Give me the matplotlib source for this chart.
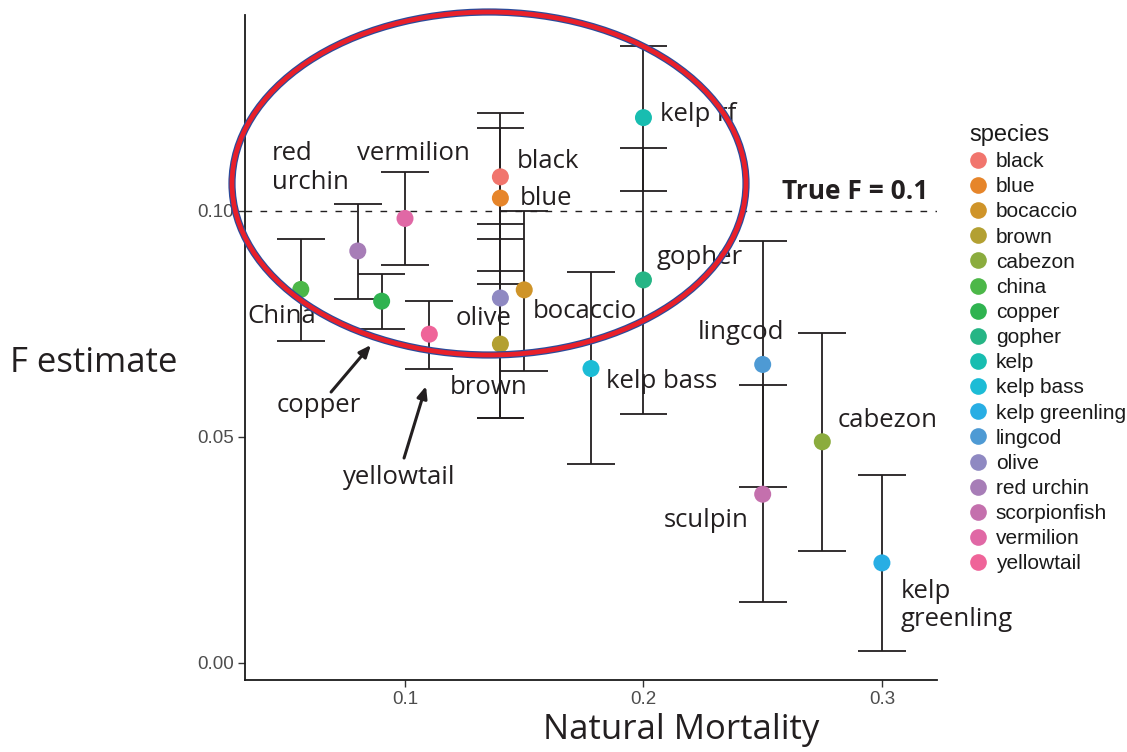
import matplotlib
matplotlib.use("Agg")
import matplotlib.pyplot as plt
from matplotlib.patches import Ellipse
from matplotlib.lines import Line2D

# ---- data -------------------------------------------------------------
species = ["black", "blue", "bocaccio", "brown", "cabezon", "china", "copper",
           "gopher", "kelp", "kelp bass", "kelp greenling", "lingcod", "olive",
           "red urchin", "scorpionfish", "vermilion", "yellowtail"]
natural_mortality = [0.14, 0.14, 0.15, 0.14, 0.275, 0.0563, 0.0902,
                     0.20, 0.20, 0.178, 0.30, 0.25, 0.14,
                     0.0802, 0.25, 0.10, 0.1102]
f_estimate = [0.1075, 0.1028, 0.0825, 0.0705, 0.0489, 0.0826, 0.0800,
              0.0847, 0.1206, 0.0651, 0.0221, 0.0660, 0.0807,
              0.0911, 0.0373, 0.0983, 0.0727]
f_upper = [0.1216, 0.1183, 0.0999, 0.0867, 0.0730, 0.0937, 0.0861,
           0.1139, 0.1365, 0.0865, 0.0415, 0.0933, 0.0971,
           0.1016, 0.0614, 0.1086, 0.0801]
f_lower = [0.0937, 0.0838, 0.0645, 0.0541, 0.0248, 0.0712, 0.0739,
           0.0550, 0.1044, 0.0440, 0.0027, 0.0389, 0.0541,
           0.0805, 0.0134, 0.0880, 0.0651]
true_f = 0.1
x_ticks = [0.1, 0.2, 0.3]
y_ticks = [0.00, 0.05, 0.10]
y_tick_labels = ["0.00", "0.05", "0.10"]

# one hue per species
colors = ["#F1756D", "#E6852A", "#CF9429", "#B3A032", "#8BAC3E", "#4CB748",
          "#2FB350", "#26B585", "#18BDB0", "#1CBCD6", "#28AEE4", "#4E9AD4",
          "#8F89C2", "#A77DB7", "#C470AD", "#E068A5", "#EF6499"]

# ---- figure -----------------------------------------------------------
W, H = 1127, 752
fig = plt.figure(figsize=(W / 100, H / 100), dpi=100)
ax = fig.add_axes([245 / W, 1 - 680 / H, (937 - 245) / W, (680 - 15) / H])
ax.set_xlim(0.0329, 0.3231)
ax.set_ylim(-0.0038, 0.1433)

ink = "#231f20"
cap_half = 0.01

# error bars
ax.vlines(natural_mortality, f_lower, f_upper, color=ink, lw=1.3, zorder=2)
for ys in (f_lower, f_upper):
    ax.hlines(ys, [m - cap_half for m in natural_mortality],
              [m + cap_half for m in natural_mortality],
              color=ink, lw=1.3, zorder=2)

# points
for sp, m, f, c in zip(species, natural_mortality, f_estimate, colors):
    ax.scatter([m], [f], s=150, color=c, edgecolors="none", zorder=3, label=sp)

# reference line
ax.axhline(true_f, color=ink, lw=1.0, dashes=(4.8, 6), zorder=1)

# axes styling
for side in ("top", "right"):
    ax.spines[side].set_visible(False)
for side in ("left", "bottom"):
    ax.spines[side].set_color("#1a1a1a")
    ax.spines[side].set_linewidth(1.3)
ax.set_xticks(x_ticks)
ax.set_xticklabels([f"{t:g}" for t in x_ticks])
ax.set_yticks(y_ticks)
ax.set_yticklabels(y_tick_labels)
ax.tick_params(length=5, width=1.0, color="#333333", labelcolor="#4d4d4d",
               labelsize=13.5, pad=3)
for lab in ax.get_xticklabels() + ax.get_yticklabels():
    lab.set_family(["Liberation Sans", "DejaVu Sans"])

# species annotations
label_font = ["Open Sans", "DejaVu Sans"]
annotations = [
    ("red\nurchin", 0.0442, 0.1095),
    ("vermilion", 0.0799, 0.1126),
    ("black", 0.1470, 0.1108),
    ("blue", 0.1482, 0.1028),
    ("kelp rf", 0.2069, 0.1214),
    ("gopher", 0.2057, 0.0896),
    ("China", 0.0338, 0.0765),
    ("olive", 0.1214, 0.0761),
    ("bocaccio", 0.1537, 0.0778),
    ("lingcod", 0.2229, 0.0730),
    ("brown", 0.1189, 0.0610),
    ("kelp bass", 0.1843, 0.0623),
    ("copper", 0.0463, 0.0570),
    ("yellowtail", 0.0740, 0.0411),
    ("cabezon", 0.2816, 0.0537),
    ("sculpin", 0.2086, 0.0314),
    ("kelp\ngreenling", 0.3080, 0.0127),
]
for txt, tx, ty in annotations:
    ax.text(tx, ty, txt, fontsize=18.5, family=label_font, color=ink,
            ha="left", va="center", linespacing=1.2, zorder=4, clip_on=False)

ax.text(0.2581, 0.1042, "True F = 0.1", fontsize=19, family=label_font,
        fontweight="bold", color=ink, ha="left", va="center", zorder=4)

# arrows
arrow_style = dict(arrowstyle="-|>,head_length=0.7,head_width=0.3",
                   color=ink, lw=2.2, shrinkA=0, shrinkB=0)
ax.annotate("", xy=(0.0857, 0.0703), xytext=(0.0690, 0.0599),
            arrowprops=arrow_style, zorder=5)
ax.annotate("", xy=(0.1088, 0.0612), xytext=(0.0996, 0.0453),
            arrowprops=arrow_style, zorder=5)

# highlight ring around the high-F group
ring_center = (489 / W, 1 - 183.5 / H)
for col, lw in (("#2b4b9b", 5.2), ("#e8202a", 3.4)):
    fig.add_artist(Ellipse(ring_center, 514 / W, 343 / H, fill=False,
                           edgecolor=col, lw=lw, transform=fig.transFigure,
                           zorder=10))

# axis titles
fig.text(10 / W, 1 - 363 / H, "F estimate", fontsize=25, family=label_font,
         color=ink, ha="left", va="center")
fig.text(681 / W, 1 - 730 / H, "Natural Mortality", fontsize=25,
         family=label_font, color=ink, ha="center", va="center")

# legend
handles = [Line2D([], [], marker="o", linestyle="none", markersize=12,
                  markerfacecolor=c, markeredgecolor="none") for c in colors]
leg = ax.legend(handles, species, title="species", loc="upper left",
                bbox_to_anchor=(969 / W, 1 - 124 / H),
                bbox_transform=fig.transFigure, frameon=False,
                prop={"family": ["Liberation Sans", "DejaVu Sans"], "size": 15},
                title_fontproperties={"family": ["Liberation Sans", "DejaVu Sans"],
                                      "size": 17},
                handlelength=0.9, handletextpad=0.38, labelspacing=0.295,
                borderpad=0, borderaxespad=0, alignment="left")
for t in leg.get_texts():
    t.set_color("#1a1a1a")
leg.get_title().set_color("#1a1a1a")

fig.savefig("out.png", dpi=100)
